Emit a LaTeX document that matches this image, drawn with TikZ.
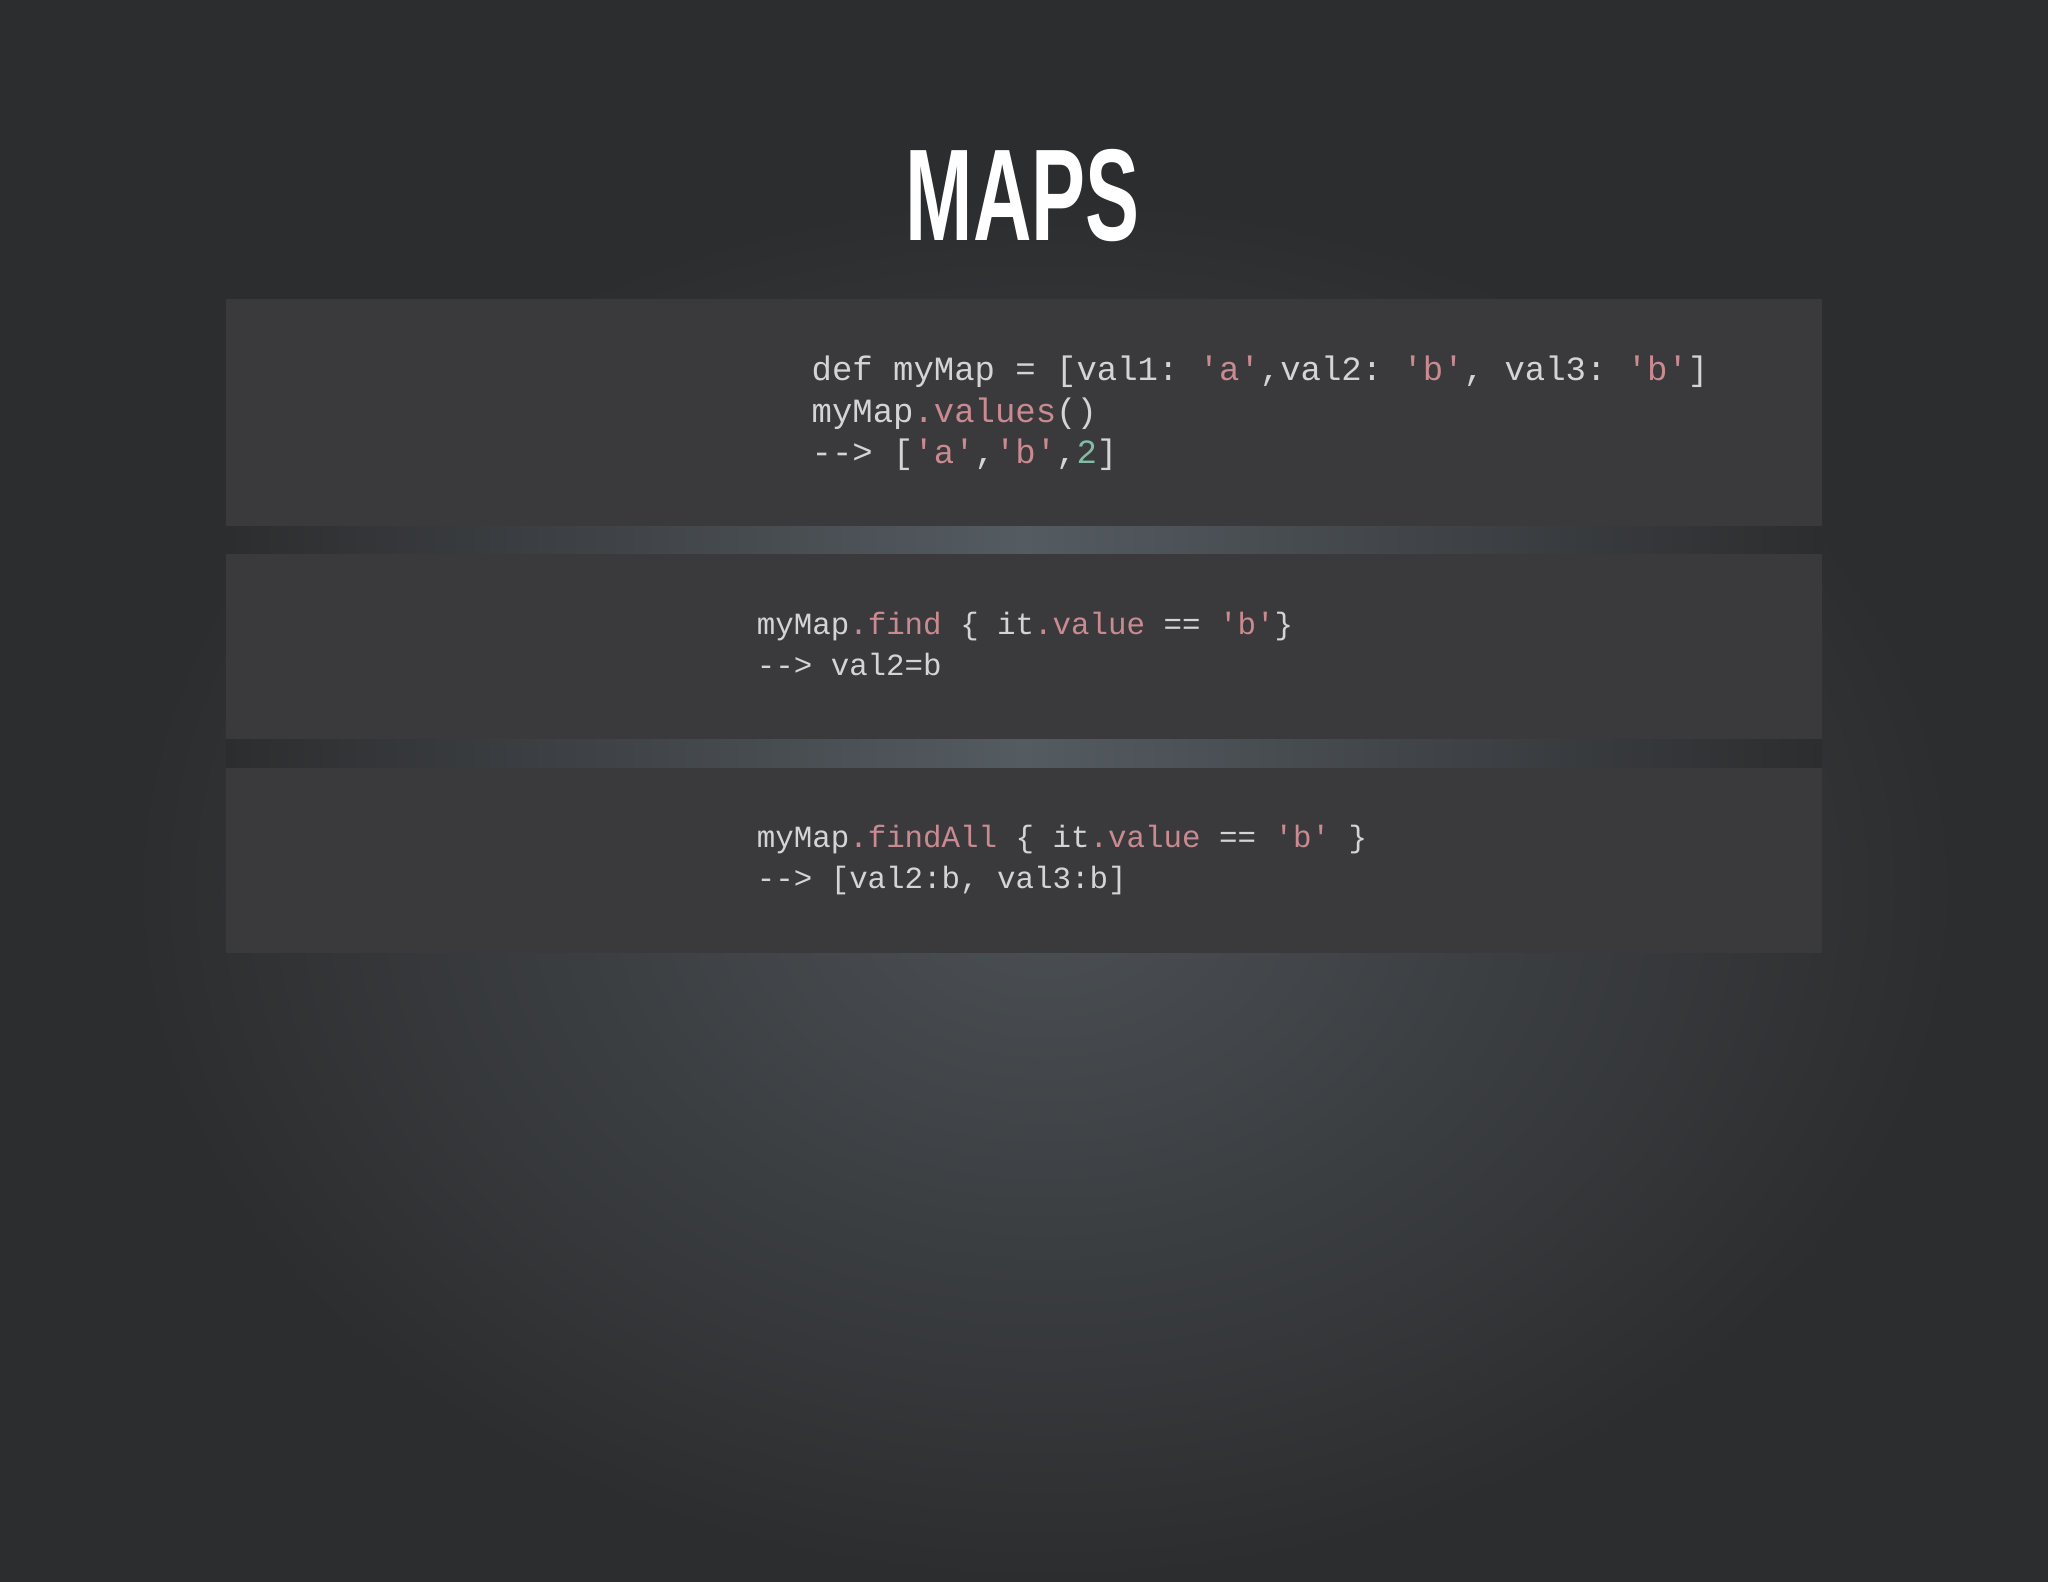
\documentclass[tikz,border=0pt]{standalone}
\usepackage{fontspec}
\setmonofont{Liberation Mono}
\newfontfamily\titlefont{Liberation Sans}
\definecolor{bgout}{HTML}{2C2D2F}
\definecolor{bgin}{HTML}{4B5054}
\definecolor{boxc}{HTML}{3A3A3C}
\definecolor{codec}{HTML}{D4D4D4}
\definecolor{strc}{HTML}{C98A91}
\definecolor{numc}{HTML}{82BCA4}
\definecolor{gapc}{HTML}{545B61}
\tikzset{codebox/.style={fill=boxc,draw=none},
 code/.style={anchor=north west,align=left,inner sep=0pt,text=codec,font=\ttfamily\fontsize{13}{16}\selectfont},
 codesm/.style={code,font=\ttfamily\fontsize{11.8}{16}\selectfont}}
\newcommand{\sv}[1]{\textcolor{strc}{#1}}
\begin{document}
\begin{tikzpicture}[x=0.5pt,y=-0.5pt]
\useasboundingbox (0,0) rectangle (1568,1211);
\fill[bgout] (0,0) rectangle (1568,1211);
\shade[inner color=bgin,outer color=bgout] (100,150) rectangle (1500,1211);
\shade[left color=bgout,right color=bgout,middle color=gapc] (173,403) rectangle (1395,424);
\shade[left color=bgout,right color=bgout,middle color=gapc] (173,566) rectangle (1395,588);
\node[font=\titlefont\bfseries\fontsize{50}{54}\selectfont,text=white,xscale=0.62] (title) at (783,150) {MAPS};
\fill[codebox] (173,229) rectangle (1395,403);
\fill[codebox] (173,424) rectangle (1395,566);
\fill[codebox] (173,588) rectangle (1395,730);
\node[code] (c1) at (621,272) {def myMap = [val1: \sv{'a'},val2: \sv{'b'}, val3: \sv{'b'}]\\
myMap\sv{.values}()\\
--> [\sv{'a'},\sv{'b'},\textcolor{numc}{2}]};
\node[codesm] (c2) at (579,468) {myMap\sv{.find} \{ it\sv{.value} == \sv{'b'}\}\\
--> val2=b};
\node[codesm] (c3) at (579,631) {myMap\sv{.findAll} \{ it\sv{.value} == \sv{'b'} \}\\
--> [val2:b, val3:b]};
\end{tikzpicture}
\end{document}
